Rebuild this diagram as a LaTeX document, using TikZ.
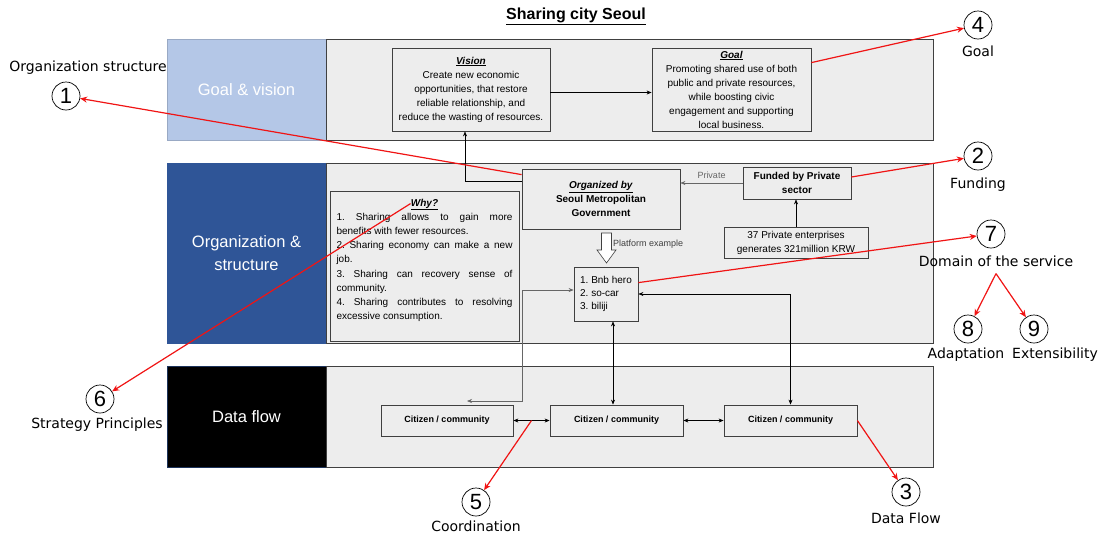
\documentclass[tikz,border=0pt]{standalone}
\usepackage{fontspec}
\setmainfont{Liberation Sans}
\newfontfamily\labfont{DejaVu Sans}
\usetikzlibrary{arrows.meta}
\definecolor{panelgray}{HTML}{EDEDED}
\definecolor{boxline}{HTML}{404040}
\definecolor{lightblue}{HTML}{B4C7E7}
\definecolor{darkblue}{HTML}{2F5597}
\definecolor{markred}{HTML}{F01414}
\setlength{\parindent}{0pt}
\tolerance=10000
\frenchspacing
\begin{document}
\begin{tikzpicture}[x=1pt, y=-1pt, >={Stealth[length=5pt,width=4pt]},
  panel/.style={draw=boxline, fill=panelgray, line width=0.8pt, minimum width=607pt, inner sep=0pt},
  rowlabel/.style={minimum width=159pt, inner sep=0pt, text=white, align=center, font=\fontsize{16.5}{23}\selectfont},
  box/.style={draw=boxline, fill=panelgray, line width=0.8pt, inner sep=3pt, align=center, font=\fontsize{10}{14}\selectfont},
  citbox/.style={box, minimum width=133pt, minimum height=31pt, font=\bfseries\fontsize{9}{11}\selectfont},
  num/.style={circle, draw, line width=0.7pt, minimum size=28pt, inner sep=0pt, font=\fontsize{22}{22}\selectfont},
  outlabel/.style={inner sep=1pt, font=\labfont\fontsize{14}{17}\selectfont},
  link/.style={line width=0.6pt},
  redarrow/.style={draw=markred, line width=1.2pt, -{Stealth[length=7pt,width=6pt]}}]
  \useasboundingbox (0,0) rectangle (1104,536);

  \node (title) at (576,16) {\fontsize{16}{18}\selectfont\underline{\textbf{Sharing city Seoul}}};

  % three rows
  \node (lab1) [rowlabel, fill=lightblue, draw=lightblue!85!black, minimum height=101pt] at (246.5,89.5) {Goal \& vision};
  \node (pan1) [panel, minimum height=101pt] at (629.5,89.5) {};
  \node (lab2) [rowlabel, fill=darkblue, draw=darkblue, minimum height=180pt] at (246.5,253) {Organization \&\\structure};
  \node (pan2) [panel, minimum height=180pt] at (629.5,253) {};
  \node (lab3) [rowlabel, fill=black, draw=darkblue!60!black, minimum height=101pt] at (246.5,416.5) {Data flow};
  \node (pan3) [panel, minimum height=101pt] at (629.5,416.5) {};

  % boxes
  \node (vision) [box, minimum width=158pt, minimum height=83pt] at (471,89.5)
    {\underline{\textbf{\textit{Vision}}}\\Create new economic\\opportunities, that restore\\reliable relationship, and\\reduce the wasting of resources.};
  \node (goal) [box, minimum width=159pt, minimum height=83pt, inner ysep=0pt] at (731.5,89.5)
    {\underline{\textbf{\textit{Goal}}}\\Promoting shared use of both\\public and private resources,\\while boosting civic\\engagement and supporting\\local business.};
  \node (org) [box, minimum width=158pt, minimum height=60pt] at (601,199)
    {\underline{\textbf{\textit{Organized by}}}\\\textbf{Seoul Metropolitan}\\\textbf{Government}};
  \node (fund) [box, minimum width=108pt, minimum height=32pt, font=\bfseries\fontsize{10}{14}\selectfont] at (797,183) {Funded by Private\\sector};
  \node (ent) [box, minimum width=144pt, minimum height=31pt] at (796,242.5) {37 Private enterprises\\generates 321million KRW};
  \node (why) [box, minimum width=189pt, minimum height=150pt] at (424.5,266) {};
  \node (whytext) [anchor=north, text width=176pt, align=justify, inner sep=0pt, font=\fontsize{10}{14.2}\selectfont] at ([yshift=-8pt]why.north)
    {{\centering\underline{\textbf{\textit{Why?}}}\par}
     1. Sharing allows to gain more\linebreak benefits with fewer resources.\par
     2. Sharing economy can make a new\linebreak job.\par
     3. Sharing can recovery sense of\linebreak community.\par
     4. Sharing contributes to resolving\linebreak excessive consumption.};
  \node (bnb) [box, align=left, minimum width=64pt, minimum height=54pt, font=\fontsize{10}{13}\selectfont] at (606,294) {1. Bnb hero\\2. so-car\\3. biliji};
  \node (cit1) [citbox, minimum width=132pt] at (447,420.5) {Citizen / community};
  \node (cit2) [citbox] at (616.5,420.5) {Citizen / community};
  \node (cit3) [citbox] at (790.5,420.5) {Citizen / community};

  % platform arrow
  \draw[link, draw=boxline, fill=white] (601.5,233) -- (611.5,233) -- (611.5,250) -- (616,250) -- (606.5,263) -- (597,250) -- (601.5,250) -- cycle;
  \node (plat) [anchor=west, inner sep=0pt, text=boxline, font=\fontsize{9}{11}\selectfont] at (613,244) {Platform example};

  % connectors
  \draw[link, ->] ([yshift=-13pt]org.north west) -| ([xshift=-6pt]vision.south);
  \draw[link, ->] ([yshift=-3pt]vision.east) -- ([yshift=-3pt]goal.west);
  \draw[link, ->, black!60] (fund.west) -- node[above=1pt, text=black!60, font=\fontsize{9}{11}\selectfont] {Private} (fund.west -| org.east);
  \draw[link, ->] (ent.north) -- (ent.north |- fund.south);
  \coordinate (tipA) at (467,401);
  \draw[link, <->, black!60] ([yshift=4pt]bnb.west) -| ([xshift=55pt]tipA) -- (tipA);
  \draw[link, <->] ([xshift=7pt]bnb.south) -- ([xshift=7pt]bnb.south |- cit2.north);
  \draw[link, <->] (bnb.east) -| (cit3.north);
  \draw[link, <->] (cit1) -- coordinate (mid12) (cit2);
  \draw[link, <->] (cit2) -- (cit3);

  % numbered marks
  \node (c1) [num] at (66,96) {1};
  \node (c2) [num] at (978,156) {2};
  \node (c3) [num] at (906,492) {3};
  \node (c4) [num] at (978,25) {4};
  \node (c5) [num] at (476,502) {5};
  \node (c6) [num] at (100,399) {6};
  \node (c7) [num] at (991,234) {7};
  \node (c8) [num] at (968,329) {8};
  \node (c9) [num] at (1034,329) {9};
  \node (orgst) [outlabel] at (88,68) {Organization structure};
  \node (goallab) [outlabel] at (978,51) {Goal};
  \node (funding) [outlabel] at (978,185) {Funding};
  \node (dataflow) [outlabel] at (906,518) {Data Flow};
  \node (coord) [outlabel] at (476,526) {Coordination};
  \node (strat) [outlabel] at (97,425) {Strategy Principles};
  \node (dom) [outlabel] at (996,261) {Domain of the service};
  \node (adapt) [outlabel] at (966,355) {Adaptation};
  \node (ext) [outlabel] at (1055,355) {Extensibility};
  \coordinate (split) at ([yshift=-6pt]dom.south);

  % red marks
  \draw[redarrow] ([yshift=-6pt]org.north west) -- (c1);
  \draw[redarrow] ([yshift=6pt]fund.east) -- (c2);
  \draw[redarrow] (cit3.east) -- (c3);
  \draw[redarrow] ([yshift=-15pt]goal.north east) -- (c4);
  \draw[redarrow] (mid12) -- (c5);
  \draw[redarrow] ([xshift=-14pt,yshift=-13pt]why.north) -- (c6);
  \draw[redarrow] ([yshift=-16pt]bnb.north east) -- (c7);
  \draw[redarrow] (split) -- (c8);
  \draw[redarrow] (split) -- (c9);
\end{tikzpicture}
\end{document}
